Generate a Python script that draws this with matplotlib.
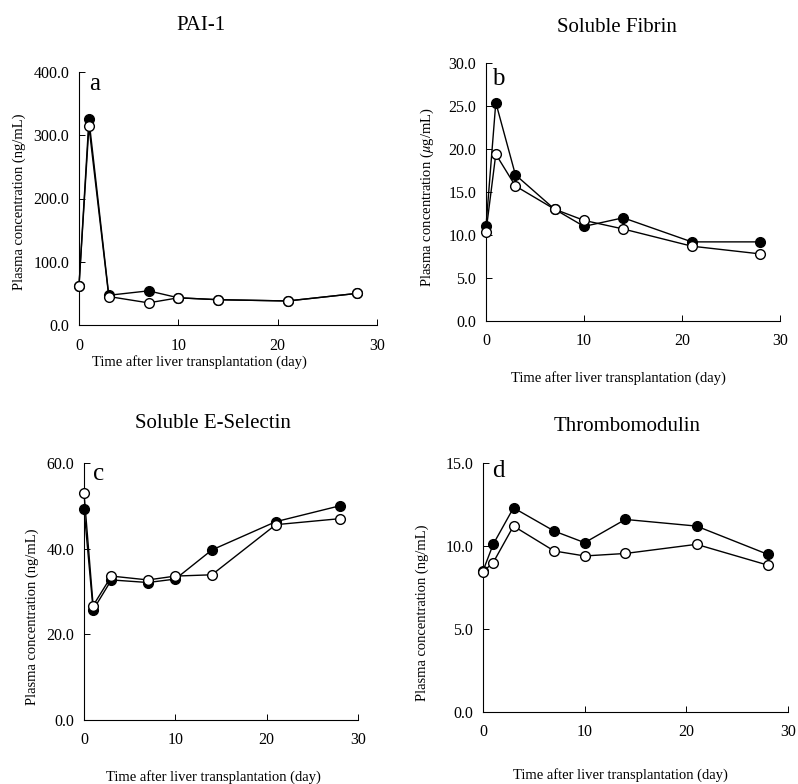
import matplotlib
matplotlib.use("Agg")
import matplotlib.pyplot as plt

plt.rcParams['font.family'] = ['Liberation Serif', 'DejaVu Serif']
plt.rcParams['mathtext.fontset'] = 'stix'

days = [0, 1, 3, 7, 10, 14, 21, 28]

pai_filled = [62, 325, 47, 54, 43, 40, 38, 50]
pai_open = [62, 314, 45, 35, 43, 40, 38, 50]

sf_filled = [11.0, 25.4, 17.0, 13.0, 11.0, 12.0, 9.2, 9.2]
sf_open = [10.4, 19.4, 15.7, 13.0, 11.7, 10.7, 8.7, 7.8]

es_filled = [49.3, 25.7, 32.7, 32.1, 32.9, 39.7, 46.3, 50.0]
es_open = [53.0, 26.7, 33.6, 32.7, 33.6, 33.9, 45.6, 47.0]

tm_filled = [8.5, 10.1, 12.3, 10.9, 10.2, 11.6, 11.2, 9.5]
tm_open = [8.45, 9.0, 11.2, 9.7, 9.4, 9.55, 10.1, 8.85]

titles = ["PAI-1", "Soluble Fibrin", "Soluble E-Selectin", "Thrombomodulin"]
letters = ["a", "b", "c", "d"]
ylabels = ["Plasma concentration (ng/mL)",
           r"Plasma concentration ($\mu$g/mL)",
           "Plasma concentration (ng/mL)",
           "Plasma concentration (ng/mL)"]
xlabel = "Time after liver transplantation (day)"
xticks = [0, 10, 20, 30]
yticks_list = [[0, 100, 200, 300, 400],
               [0, 5, 10, 15, 20, 25, 30],
               [0, 20, 40, 60],
               [0, 5, 10, 15]]
series = [(pai_filled, pai_open), (sf_filled, sf_open),
          (es_filled, es_open), (tm_filled, tm_open)]

W, H = 798, 784
fig = plt.figure(figsize=(W / 100, H / 100), dpi=100)

def fx(x):
    return x / W

def fy(y):
    return 1 - y / H

# axes boxes in pixels: left, right(x=30), top(ymax), bottom(0)
boxes = [(79, 377, 72, 325), (486, 780, 63, 321),
         (84, 358, 463, 720), (483, 788, 463, 712)]
title_pos = [(201, 25), (617, 28), (213, 423), (627, 427)]
xlabel_pos = [(199, 362), (618, 378), (213, 777), (620, 775)]
ylabel_pos = [(19, 202), (427, 197), (32, 617), (422, 613)]
letter_pos = [(0.035, 0.93), (0.02, 0.915), (0.033, 0.934), (0.03, 0.944)]

for i in range(4):
    l, r, t, b = boxes[i]
    ax = fig.add_axes([fx(l), fy(b), (r - l) / W, (b - t) / H])
    filled, opn = series[i]
    ax.plot(days, filled, color='black', lw=1.0, marker='o', ms=7,
            mfc='black', mec='black', mew=1.0, zorder=3, clip_on=False)
    ax.plot(days, opn, color='black', lw=1.0, marker='o', ms=7,
            mfc='white', mec='black', mew=1.0, zorder=4, clip_on=False)
    yt = yticks_list[i]
    ax.set_xlim(0, 30)
    ax.set_ylim(0, yt[-1])
    ax.set_xticks(xticks)
    ax.set_yticks(yt)
    ax.set_yticklabels([f"{v:.1f}" for v in yt])
    ax.tick_params(direction='in', length=4, width=0.7, labelsize=11.5, pad=7)
    ax.tick_params(axis='x', labelsize=11.5, pad=9)
    for s in ['top', 'right']:
        ax.spines[s].set_visible(False)
    for s in ['left', 'bottom']:
        ax.spines[s].set_linewidth(0.8)
    ax.text(letter_pos[i][0], letter_pos[i][1], letters[i], transform=ax.transAxes,
            fontsize=18, ha='left', va='baseline')
    fig.text(fx(title_pos[i][0]), fy(title_pos[i][1]), titles[i], fontsize=15,
             ha='center', va='center')
    fig.text(fx(xlabel_pos[i][0]), fy(xlabel_pos[i][1]), xlabel, fontsize=10.5,
             ha='center', va='center')
    fig.text(fx(ylabel_pos[i][0]), fy(ylabel_pos[i][1]), ylabels[i], fontsize=10.5,
             ha='center', va='center', rotation=90)

fig.savefig("out.png", dpi=100)
